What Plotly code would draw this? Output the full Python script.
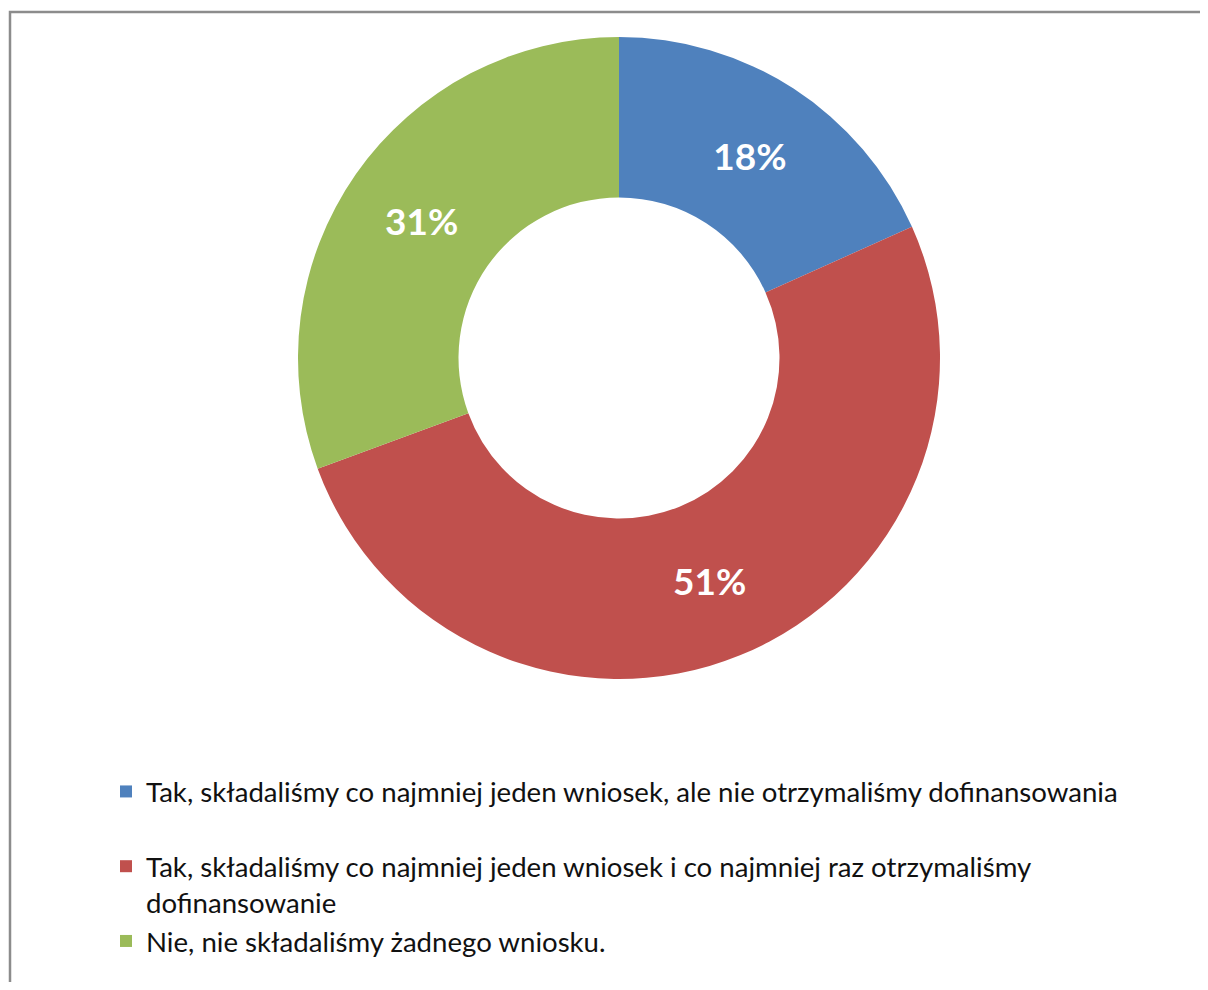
import plotly.graph_objects as go

categories = [
    "Tak, składaliśmy co najmniej jeden wniosek, ale nie otrzymaliśmy dofinansowania",
    "Tak, składaliśmy co najmniej jeden wniosek i co najmniej raz otrzymaliśmy<br>dofinansowanie",
    "Nie, nie składaliśmy żadnego wniosku.",
]
values = [18.3, 51.1, 30.6]
colors = ["#4F81BD", "#C0504D", "#9BBB59"]

# legend display labels (extra blank line after first entry for spacing, as in reference)
legend_labels = [categories[0] + "<br> ", categories[1], categories[2]]

# figure fits inside the browser viewport (body margin 8px)
W, H = 1192, 974
cx, cy, R = 611, 350, 321

fig = go.Figure(
    go.Pie(
        labels=legend_labels,
        values=values,
        sort=False,
        direction="clockwise",
        rotation=0,
        hole=0.5,
        marker=dict(colors=colors, line=dict(width=0)),
        textinfo="percent",
        texttemplate="%{percent:.0%}",
        textposition="inside",
        insidetextorientation="horizontal",
        textfont=dict(family="Lato", size=37, color="white", weight="bold"),
        domain=dict(
            x=[(cx - R) / W, (cx + R) / W],
            y=[1 - (cy + R) / H, 1 - (cy - R) / H],
        ),
        hoverinfo="label+percent",
    )
)

bx = 2 / W
by = 1 - 4 / H
border_path = f"M {bx},-0.05 L {bx},{by} L 1.05,{by}"

fig.update_layout(
    width=W,
    height=H,
    margin=dict(l=0, r=0, t=0, b=0),
    paper_bgcolor="white",
    plot_bgcolor="white",
    showlegend=True,
    legend=dict(
        x=98 / W,
        y=1 - 759 / H,
        xanchor="left",
        yanchor="top",
        valign="top",
        font=dict(family="Lato", size=27.6, color="#111111"),
        bgcolor="rgba(0,0,0,0)",
        itemclick=False,
        itemdoubleclick=False,
    ),
    shapes=[
        dict(
            type="path",
            xref="paper",
            yref="paper",
            path=border_path,
            line=dict(color="#8c8c8c", width=2.5),
            layer="below",
        )
    ],
)

fig.write_html("out.html")
